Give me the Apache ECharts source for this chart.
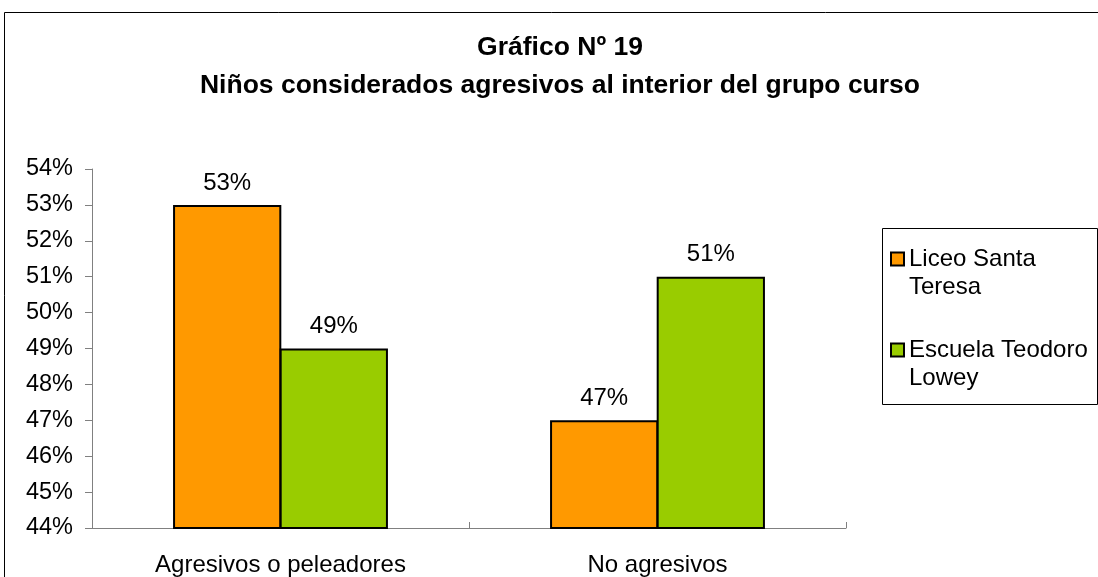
<!DOCTYPE html>
<html>
<head>
<meta charset="utf-8">
<script src="https://cdn.jsdelivr.net/npm/echarts@6/dist/echarts.min.js"></script>
<style>html,body{margin:0;padding:0;background:#fff}#c{width:1098px;height:577px}</style>
</head>
<body>
<div id="c"></div>
<script>
const categories = ["Agresivos o peleadores", "No agresivos"];
const seriesNames = ["Liceo Santa Teresa", "Escuela Teodoro Lowey"];
const legendLabels = ["Liceo Santa\nTeresa", "Escuela Teodoro\nLowey"];
const liceoValues = [53, 47];
const escuelaValues = [49, 51];
const yMin = 44, yMax = 54, yStep = 1;

const FONT = "'Liberation Sans', Arial, sans-serif";
const chart = echarts.init(document.getElementById('c'));
const colors = ['#FF9900', '#99CC00'];
const values = [liceoValues, escuelaValues];

chart.setOption({
  animation: false,
  backgroundColor: '#fff',
  textStyle: { fontFamily: FONT, color: '#000' },
  graphic: [
    { type: 'rect', shape: { x: 4.5, y: 12.5, width: 1200, height: 700 }, style: { fill: 'none', stroke: '#000', lineWidth: 1 }, z: -1 },
    { type: 'rect', shape: { x: 882.5, y: 228.5, width: 215, height: 176 }, style: { fill: 'none', stroke: '#000', lineWidth: 1 } }
  ],
  title: {
    text: 'Gráfico Nº 19\nNiños considerados agresivos al interior del grupo curso',
    left: 560, top: 29, textAlign: 'center', padding: 0,
    textStyle: { fontFamily: FONT, fontSize: 26.5, fontWeight: 'bold', color: '#000', lineHeight: 38 }
  },
  legend: {
    orient: 'vertical', left: 890, top: 217, padding: 0, itemGap: 7,
    itemWidth: 13, itemHeight: 13, icon: 'rect',
    data: seriesNames,
    formatter: n => '\n' + legendLabels[seriesNames.indexOf(n)],
    textStyle: { fontFamily: FONT, fontSize: 24, color: '#000', lineHeight: 28 }
  },
  grid: { left: 92, right: 252, top: 169, bottom: 47 },
  xAxis: {
    type: 'category', data: categories,
    axisLine: { lineStyle: { color: '#808080', width: 1 } },
    axisTick: { show: true, inside: true, length: 6, alignWithLabel: false, lineStyle: { color: '#808080' } },
    axisLabel: { fontFamily: FONT, fontSize: 24, color: '#000', margin: 25 }
  },
  yAxis: {
    type: 'value', min: yMin, max: yMax, interval: yStep,
    splitLine: { show: false },
    axisLine: { show: true, lineStyle: { color: '#808080', width: 1 } },
    axisTick: { show: true, length: 7, lineStyle: { color: '#808080' } },
    axisLabel: { fontFamily: FONT, fontSize: 23.5, color: '#000', margin: 19, formatter: '{value}%' }
  },
  series: seriesNames.map((name, i) => ({
    name, type: 'bar', data: values[i],
    barGap: '-1.5%', barCategoryGap: '43%',
    itemStyle: { color: colors[i], borderColor: '#000', borderWidth: 2 },
    label: { show: true, position: 'top', distance: 10, formatter: '{c}%', fontFamily: FONT, fontSize: 24, color: '#000' }
  }))
});
</script>
</body>
</html>
